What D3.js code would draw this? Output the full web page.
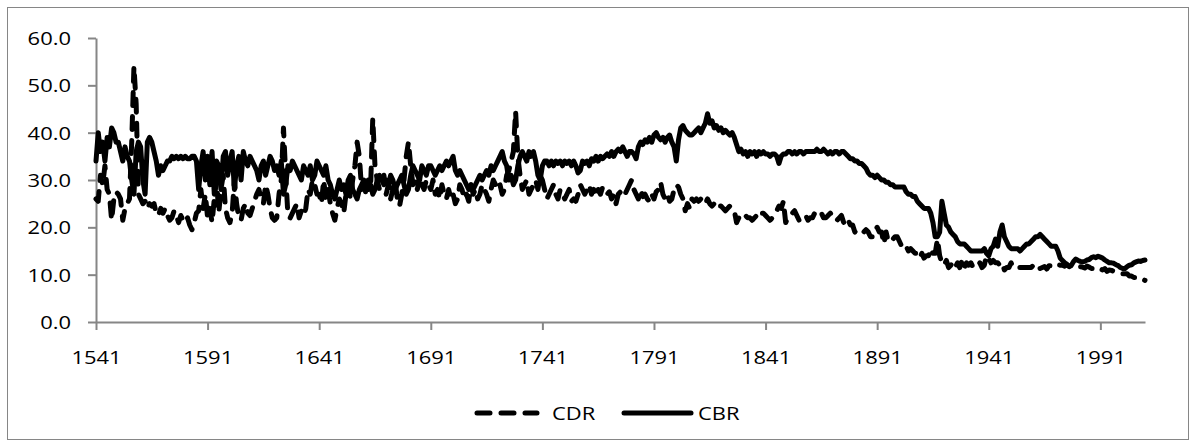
<!DOCTYPE html>
<html>
<head>
<meta charset="utf-8">
<script src="https://cdn.jsdelivr.net/npm/d3@7"></script>
<style>
  body { margin: 0; background: #fff; }
  svg text { font-family: "Open Sans", sans-serif; font-size: 18px; fill: #000; }
</style>
</head>
<body>
<svg width="1195" height="448"></svg>
<script>
// crude birth rate / crude death rate, per 1000, one value a year from 1541
const firstYear = 1541;

const cbr = [
  34, 40, 36, 38, 34, 39, 37, 41, 40, 38,
  38, 36, 34, 37, 35, 34, 30, 27, 36, 38,
  37, 30, 27, 38, 39, 38, 36, 34, 31, 33,
  32, 33, 34, 34, 35, 34.5, 35, 34.5, 35, 34.5,
  35, 34.5, 34.5, 35, 35, 34, 28, 33, 36, 30,
  35, 29, 36, 27, 34, 33, 28, 35, 36, 31,
  34, 36, 28, 33, 35, 30, 36, 34, 33, 35,
  34, 33, 32, 30, 33, 34, 31, 33, 35, 34,
  32, 33, 31, 34, 27, 29, 33, 32, 34, 33,
  32, 31, 30, 33, 32, 31, 33, 30, 31, 34,
  // 1641
  33, 32, 31, 33, 30, 29, 27, 26, 28, 30,
  28, 29, 27, 30, 31, 28, 27, 26, 28, 29,
  30, 29, 28, 29, 27, 28, 30, 31, 30, 29,
  30, 29, 31, 30, 28, 29, 30, 31, 29, 27,
  28, 31, 33, 32, 31, 30, 33, 32, 31, 33,
  33, 32, 31, 32, 33, 32, 33, 34, 33, 34,
  35, 32, 31, 32, 31, 30, 29, 28, 29, 28,
  29, 30, 31, 30, 31, 32, 31, 33, 32, 33,
  34, 35, 36, 34, 33, 30, 31, 29, 30, 33,
  35, 36, 35, 34, 36, 35, 36, 34, 31, 30,
  // 1741
  33, 34, 34, 33, 34, 33, 34, 33.5, 34, 33,
  34, 33.5, 34, 33, 34, 33, 31.5, 32, 34, 33.5,
  34, 33, 34.5, 34, 35, 34, 35, 34.5, 35, 35.5,
  35, 36, 35, 36, 36.5, 36, 37, 36, 35, 36,
  36, 35.5, 34.5, 37, 38, 37.5, 38.5, 38, 39, 38,
  39.5, 40, 39, 38.5, 39, 38, 39, 39.5, 38, 37,
  34, 38.5, 41, 41.5, 40.5, 40, 39.5, 39.5, 40, 40.5,
  41, 40, 41, 42, 44, 42, 42.5, 41, 41.5, 40.5,
  41, 40, 40.5, 40, 39.5, 40, 39, 37.5, 36, 36.5,
  35.5, 36, 35, 36, 35.5, 36, 35, 36, 35.5, 36,
  // 1841
  35.5, 35.5, 35, 35.5, 35.5, 35, 33.5, 35, 35.5, 35.5,
  36, 36, 35.5, 36, 35.5, 36, 36, 35.5, 36, 36,
  36, 36, 36, 36.5, 36, 36, 36.5, 36, 35.5, 36,
  35.5, 36, 36, 35.5, 36, 36, 35.5, 35, 34.5, 34.5,
  34, 34, 33.5, 33.5, 33, 32.5, 31.5, 31, 31, 30.5,
  31, 30.5, 30, 30, 29.5, 29.5, 29, 29, 28.5, 28.5,
  28.5, 28.5, 28.5, 27.5, 27, 27, 26.5, 26.5, 25.5, 25,
  24.5, 24, 24, 24, 23, 21, 18, 18, 19, 25.5,
  23, 20.5, 20, 19, 18.5, 18, 17, 16.5, 16.5, 16.5,
  16, 15.5, 15, 15, 15, 15, 15, 15, 15.5, 14.5,
  // 1941
  14, 15.5, 16, 17.5, 16, 19, 20.5, 18, 17, 16,
  15.5, 15.5, 15.5, 15.5, 15, 15.5, 16, 16.5, 16.5, 17,
  17.5, 18, 18, 18.5, 18, 17.5, 17, 16.5, 16, 16,
  16, 15, 13.5, 13, 12.5, 12, 11.8, 12, 12.8, 13.3,
  13, 12.8, 12.7, 12.8, 13.1, 13.2, 13.6, 13.8, 13.6, 13.9,
  13.7, 13.5, 13.1, 12.8, 12.5, 12.5, 12.4, 12.1, 11.9, 11.5,
  11.3, 11.3, 11.7, 12, 12.1, 12.5, 12.7, 12.9, 12.8, 13, 13.1
];

const cdr = [
  26, 25.5, 31, 29, 33, 28, 27, 21.5, 26, 27.5,
  27, 26, 21.5, 24, 25, 26, 38, 54, 46, 27,
  26, 25, 25.5, 24, 25, 24.5, 25, 23, 22.5, 24,
  23, 24, 22.5, 21.5, 22, 23.5, 22.5, 21, 22.5, 21.5,
  21, 22, 20.5, 19.5, 21, 23, 23.5, 28, 24, 27,
  22, 24, 21, 26, 30, 23, 28, 31, 24, 22,
  21, 23, 30, 25, 22, 21.5, 24, 25, 23, 22.5,
  24, 25.5, 27, 28, 26, 25, 29, 27, 24, 22,
  21.5, 22, 27, 30, 41, 31, 22.5, 22, 23, 24,
  25, 22, 23.5, 22.5, 24, 28, 27, 30, 29, 27,
  // 1641
  27, 25, 30, 26, 28, 25, 23, 21.5, 24, 26,
  25, 23, 27, 29, 26, 30, 33, 38, 35, 28,
  29, 27, 30, 28, 43, 33, 30, 28, 29, 31,
  27, 29, 26, 28, 30, 26, 24.5, 27, 30, 35,
  38, 33, 29, 30, 28, 31, 29, 28, 30, 29,
  28, 30, 27, 28, 26, 29, 27, 26, 28, 26,
  27, 25, 26, 29, 28, 26, 27, 25.5, 29, 27,
  28, 26, 27, 29, 28, 27, 25.5, 28, 30, 29,
  30, 29, 27, 28, 31, 32, 34, 36, 44.5, 35,
  31, 28, 29, 30, 27, 28, 29, 30, 28, 31,
  // 1741
  30, 28, 26, 27, 28, 29, 27, 26, 28, 27,
  26, 27, 28, 25.5, 26, 25.5, 27, 29, 28, 27,
  28, 29, 27, 28, 26.5, 28, 27, 28.5, 28, 27,
  27.5, 26, 27, 25, 27, 27.5, 26.5, 27, 28, 29,
  30, 28, 27, 26, 28, 26.5, 27, 26, 25.5, 27,
  26, 27.5, 28, 29.5, 27, 26, 27, 25.5, 26, 28,
  29, 28.5, 27, 26, 23.5, 25, 24, 26, 25.5, 26,
  25.5, 26, 26, 25, 26, 25, 24.5, 25, 24, 24.5,
  24.5, 24, 23.5, 24, 24.5, 24, 23.5, 21, 22, 21.5,
  22, 22.5, 22, 22, 21.5, 22, 22.5, 22, 23, 23,
  // 1841
  22.5, 22, 21.5, 22, 22.5, 23.5, 24.5, 24, 25.5, 21,
  22, 22.5, 23, 23.5, 22.5, 21.5, 22, 22.5, 22.5, 21.5,
  22, 22, 23, 23.5, 23.5, 23, 22, 22, 22.5, 23,
  22.5, 21.5, 21.5, 22, 22.5, 21, 20.5, 21.5, 20.5, 20.5,
  19, 19.5, 19.5, 19.5, 19, 19.5, 19, 18, 18, 19.5,
  20, 19, 19, 16.5, 19, 17, 17.5, 17.5, 18, 18,
  17, 16, 15.5, 16, 15, 15.5, 15, 14.5, 14.5, 13.5,
  14.5, 13.5, 14, 14, 15.5, 14.5, 14.5, 17.5, 14, 12.5,
  12, 13, 11.5, 12, 12.5, 11.5, 12.5, 11.5, 13, 11.5,
  12.5, 12, 12.5, 11.5, 12, 12, 12.5, 11.5, 12, 14,
  // 1941
  13.5, 12.5, 13, 12.5, 12.5, 12, 12.5, 11, 11.5, 11.5,
  12.5, 11.5, 11.5, 11.5, 11.5, 11.5, 11.5, 11.5, 11.5, 11.5,
  12, 12, 12.2, 11.3, 11.5, 11.7, 11.2, 11.9, 11.9, 11.7,
  11.6, 12.1, 12, 12, 11.8, 12.2, 11.7, 11.9, 12.1, 11.7,
  11.7, 11.7, 11.6, 11.4, 11.8, 11.6, 11.3, 11.3, 11.5, 11.1,
  11.2, 11, 11.3, 10.7, 11, 10.9, 10.7, 10.6, 10.6, 10.3,
  10.2, 10.2, 10.2, 9.7, 9.7, 9.4, 9.4, 9.5, 9.1, 9, 8.8
];

const xTickYears = [1541, 1591, 1641, 1691, 1741, 1791, 1841, 1891, 1941, 1991];
const yTickValues = [0, 10, 20, 30, 40, 50, 60];
const seriesNames = ['CDR', 'CBR'];

const years = cbr.map((v, i) => firstYear + i);
const textStretch = 1.22;   // the reference's text is drawn wide

const svg = d3.select('svg'),
      margin = {top: 38, right: 50, bottom: 126, left: 96},
      width = +svg.attr('width') - margin.left - margin.right,
      height = +svg.attr('height') - margin.top - margin.bottom;

// outer frame
svg.append('rect')
  .attr('x', 7.5).attr('y', 7.5)
  .attr('width', 1181).attr('height', 432)
  .attr('fill', 'none')
  .attr('stroke', '#868686')
  .attr('stroke-width', 1);

const g = svg.append('g').attr('transform', `translate(${margin.left}, ${margin.top})`);

const x = d3.scaleLinear()
  .domain([firstYear, years[years.length - 1]])
  .range([0, width]);

const y = d3.scaleLinear()
  .domain([0, 60])
  .range([height, 0]);

// axes
const yAxis = g.append('g')
  .call(d3.axisLeft(y).tickValues(yTickValues).tickFormat(d3.format('.1f')).tickSize(8).tickSizeOuter(0));
yAxis.selectAll('text')
  .attr('x', null).attr('dy', '0.36em')
  .attr('transform', `translate(-25, 0) scale(${textStretch}, 1)`);

const xAxis = g.append('g')
  .attr('transform', `translate(0, ${height})`)
  .call(d3.axisBottom(x).tickValues(xTickYears).tickFormat(d3.format('d')).tickSize(8).tickSizeOuter(0));
xAxis.selectAll('text')
  .attr('y', 0).attr('dy', null)
  .attr('transform', `translate(0, 42) scale(${textStretch}, 1)`);

[yAxis, xAxis].forEach(a => {
  a.select('.domain').attr('stroke', '#868686').attr('stroke-width', 2);
  a.selectAll('.tick line').attr('stroke', '#868686').attr('stroke-width', 2);
  a.selectAll('text').attr('font-family', null).attr('font-size', null);
});

const line = d3.line()
  .x((v, i) => x(years[i]))
  .y(v => y(v));

const dashFor = name => name === 'CDR' ? '13,11' : null;

g.append('path')
  .datum(cbr)
  .attr('fill', 'none')
  .attr('stroke', '#000')
  .attr('stroke-width', 5)
  .attr('stroke-linejoin', 'round')
  .attr('stroke-linecap', 'round')
  .attr('d', line);

g.append('path')
  .datum(cdr)
  .attr('fill', 'none')
  .attr('stroke', '#000')
  .attr('stroke-width', 5)
  .attr('stroke-linejoin', 'round')
  .attr('stroke-linecap', 'round')
  .attr('stroke-dasharray', dashFor('CDR'))
  .attr('d', line);

// legend
const legend = svg.append('g').attr('transform', 'translate(475, 413)');
const item = legend.selectAll('g')
  .data(seriesNames)
  .enter().append('g')
    .attr('transform', (d, i) => `translate(${i * 147}, 0)`);

item.append('line')
  .attr('x1', 2).attr('x2', d => d === 'CDR' ? 62 : 69)
  .attr('stroke', '#000')
  .attr('stroke-width', 5)
  .attr('stroke-linecap', 'round')
  .attr('stroke-dasharray', d => dashFor(d));

item.append('text')
  .attr('transform', d => `translate(${d === 'CDR' ? 77 : 76}, 6.5) scale(${textStretch}, 1)`)
  .text(d => d);
</script>
</body>
</html>
